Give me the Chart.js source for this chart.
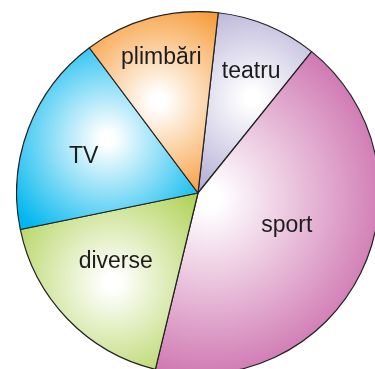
<!DOCTYPE html>
<html>
<head>
<meta charset="utf-8">
<script src="https://cdn.jsdelivr.net/npm/chart.js@4.4.1/dist/chart.umd.min.js"></script>
<style>
  html, body { margin: 0; padding: 0; background: #fff; overflow: hidden; }
  #wrap { position: relative; width: 375px; height: 369px; overflow: hidden; }
  #pieChart { position: absolute; left: 16px; top: 11px; }
</style>
</head>
<body>
<div id="wrap">
  <canvas id="pieChart" width="364" height="364"></canvas>
</div>
<script>
// slices, clockwise from the first one
const categories = ['teatru', 'sport', 'diverse', 'TV', 'plimbări'];
const shares = [9, 43, 18, 18, 12];

const edgeColors = ['#a9a3d0', '#cf76b1', '#a7cd44', '#00b6ee', '#f68e1e'];
// where the white highlight sits: [fraction of radius, gradient reach, angle nudge in deg]
const glow = [
  [0.60, 0.64, 7],
  [0.07, 1.00, 0],
  [0.68, 0.72, -2],
  [0.58, 0.64, 10],
  [0.55, 0.64, -8]
];
// label placement: [fraction of radius, angle nudge in deg]
const labelPos = [
  [0.73, 1],
  [0.52, -6],
  [0.59, 4],
  [0.66, -3],
  [0.77, 0]
];
const firstAngle = 6.4; // degrees clockwise from 12 o'clock

function sliceMid(i) {
  const total = shares.reduce((a, b) => a + b, 0);
  let start = firstAngle;
  for (let k = 0; k < i; k++) start += shares[k] / total * 360;
  return start + shares[i] / total * 180;
}

function pieGeom(chart) {
  const a = chart.chartArea;
  return {
    cx: (a.left + a.right) / 2,
    cy: (a.top + a.bottom) / 2,
    r: Math.min(a.right - a.left, a.bottom - a.top) / 2
  };
}

function polar(g, deg, frac) {
  const rad = (deg - 90) * Math.PI / 180;
  return { x: g.cx + Math.cos(rad) * g.r * frac, y: g.cy + Math.sin(rad) * g.r * frac };
}

function sliceFill(context) {
  const i = context.dataIndex;
  const chart = context.chart;
  if (!chart.chartArea || i === undefined) return edgeColors[i] || '#ccc';
  const g = pieGeom(chart);
  const [d, reach, nudge] = glow[i];
  const p = polar(g, sliceMid(i) + nudge, d);
  const grad = chart.ctx.createRadialGradient(p.x, p.y, 0, p.x, p.y, g.r * reach);
  grad.addColorStop(0, '#ffffff');
  grad.addColorStop(0.06, '#ffffff');
  grad.addColorStop(1, edgeColors[i]);
  return grad;
}

const sliceLabels = {
  id: 'sliceLabels',
  afterDatasetsDraw(chart) {
    const ctx = chart.ctx;
    const g = pieGeom(chart);
    ctx.save();
    ctx.font = '23px "Liberation Sans", Arial, sans-serif';
    ctx.fillStyle = '#1e1c1d';
    ctx.textAlign = 'center';
    ctx.textBaseline = 'middle';
    categories.forEach((name, i) => {
      const p = polar(g, sliceMid(i) + labelPos[i][1], labelPos[i][0]);
      ctx.fillText(name, p.x, p.y);
    });
    ctx.restore();
  }
};

new Chart(document.getElementById('pieChart'), {
  type: 'pie',
  data: {
    labels: categories,
    datasets: [{
      data: shares,
      backgroundColor: sliceFill,
      borderColor: '#222222',
      borderWidth: 1.2
    }]
  },
  options: {
    responsive: false,
    animation: false,
    rotation: firstAngle,
    layout: { padding: 0 },
    plugins: {
      legend: { display: false },
      tooltip: { enabled: false }
    }
  },
  plugins: [sliceLabels]
});
</script>
</body>
</html>
